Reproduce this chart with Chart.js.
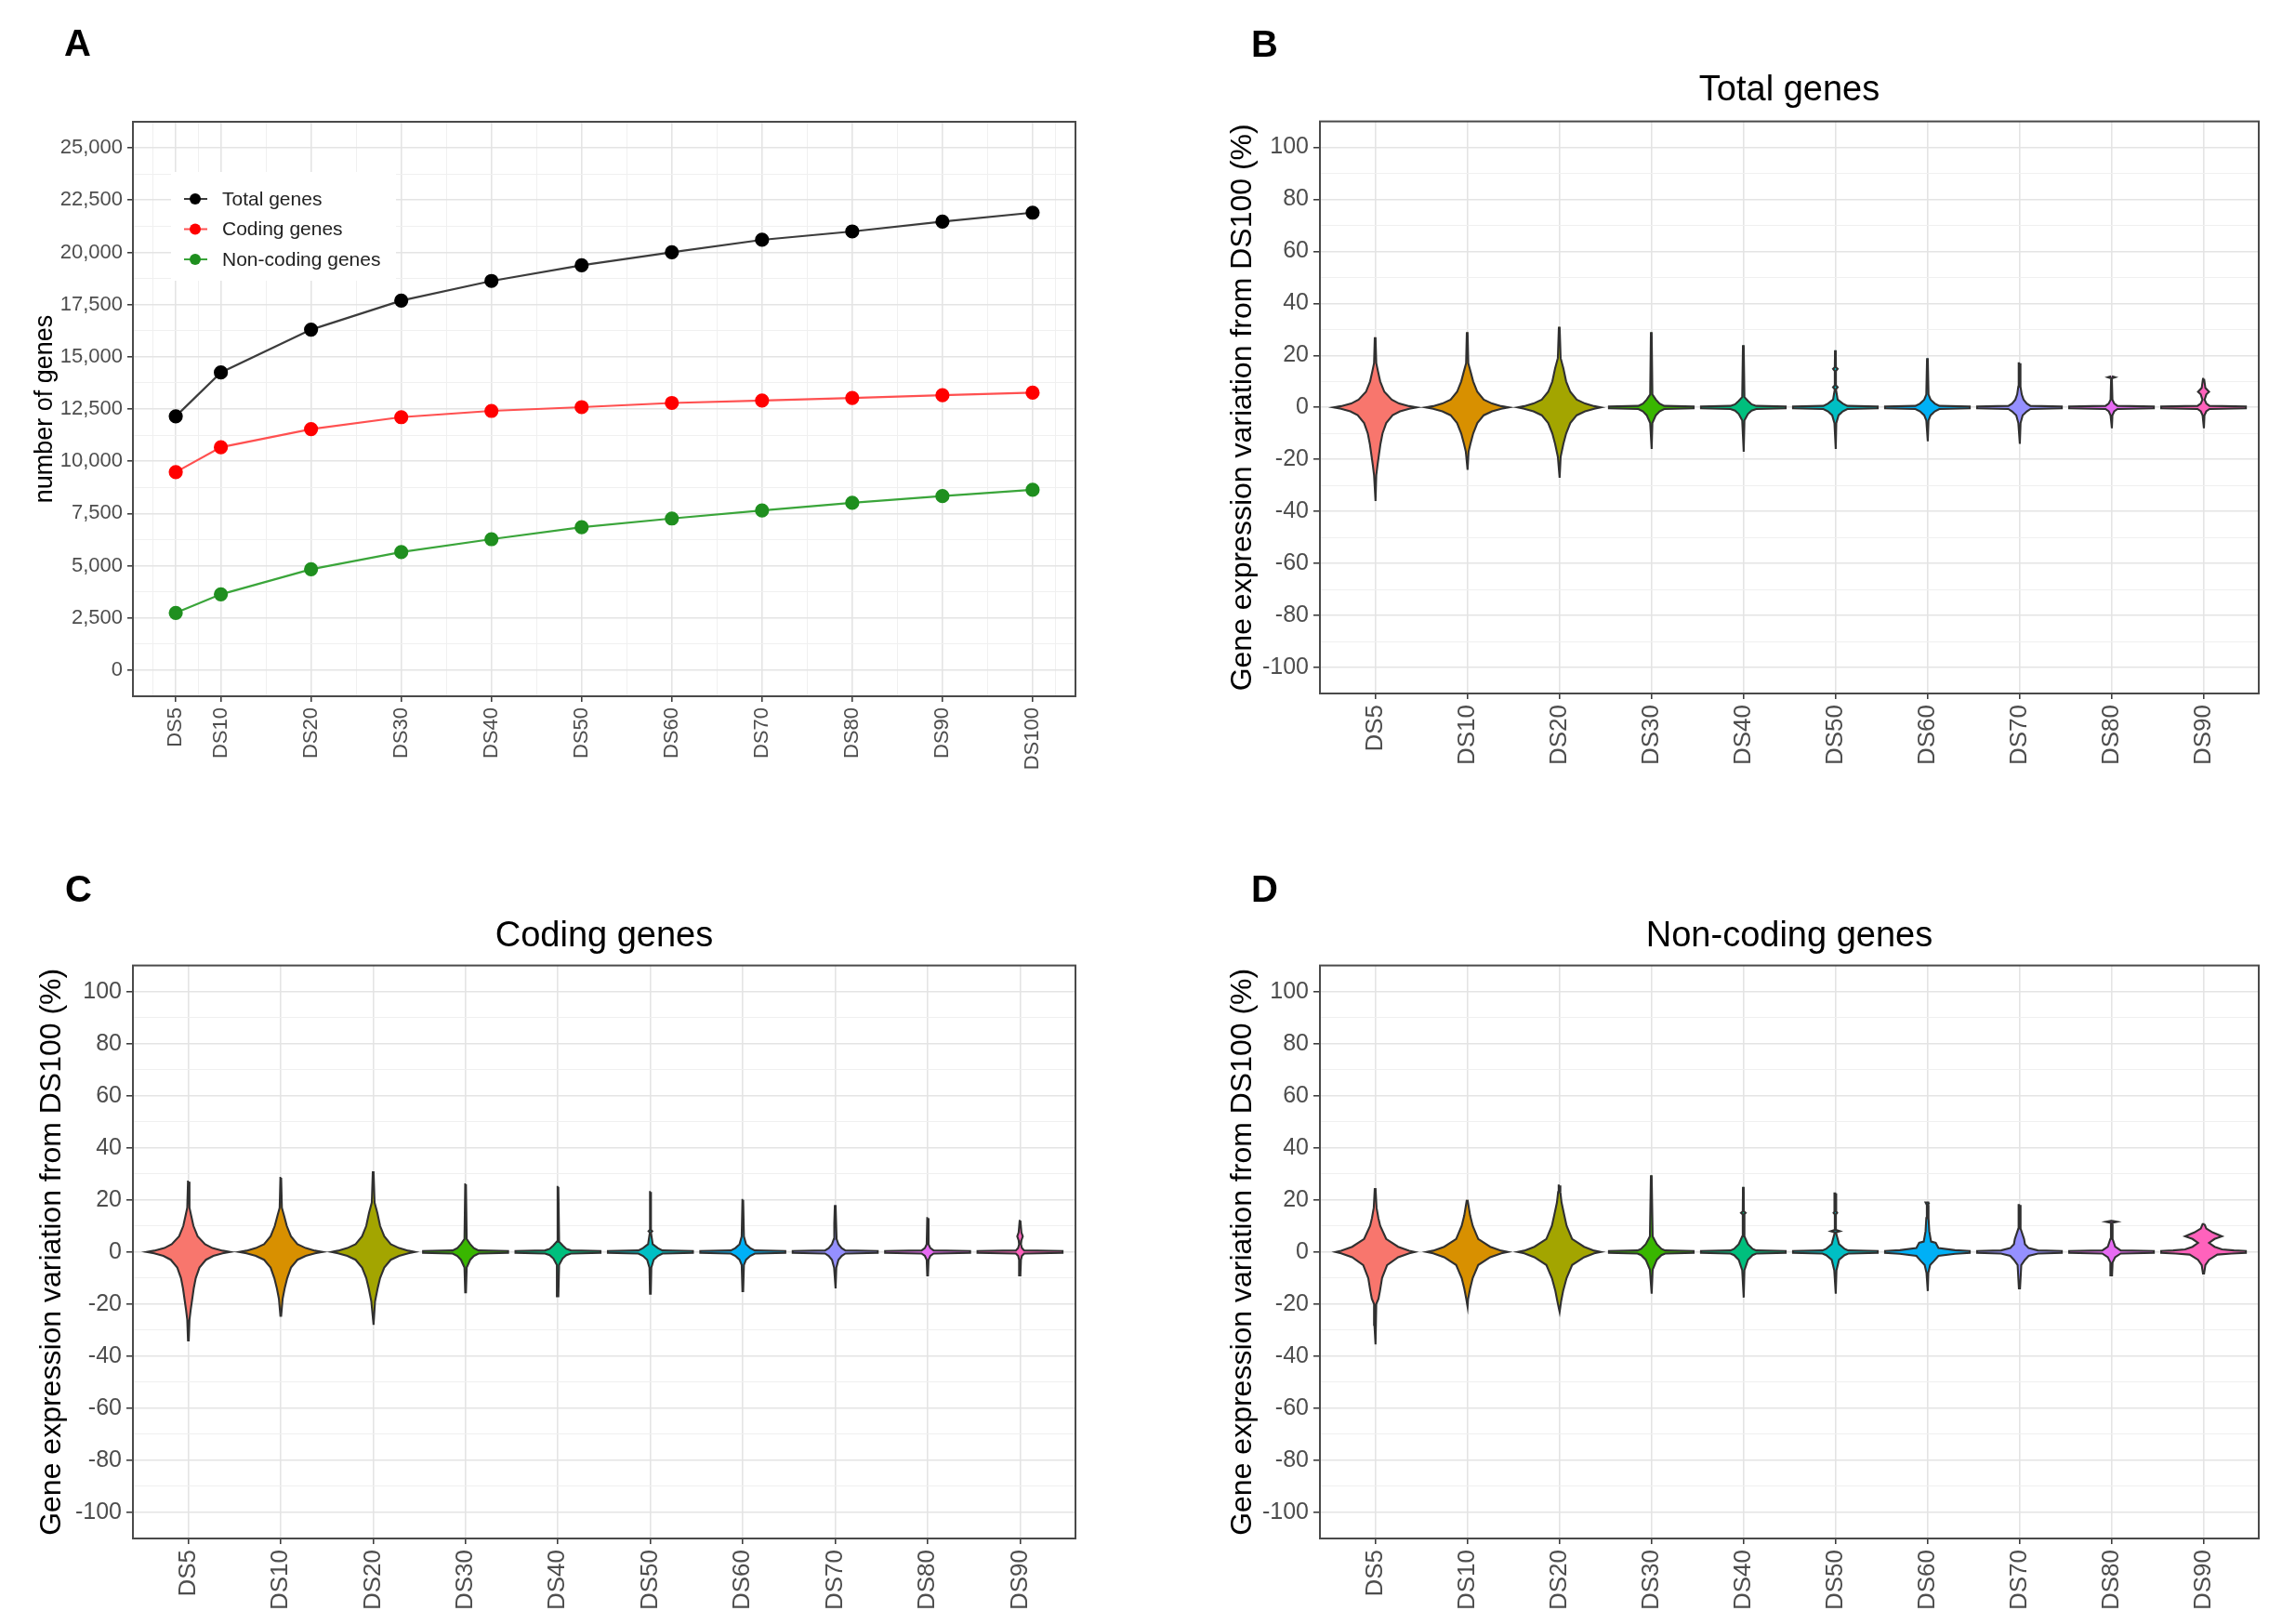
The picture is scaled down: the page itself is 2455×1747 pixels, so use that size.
<!DOCTYPE html>
<html>
<head>
<meta charset="utf-8">
<script src="https://cdn.jsdelivr.net/npm/chart.js@4.4.1/dist/chart.umd.min.js"></script>
<style>
  body { margin: 0; background: #fff; width: 2455px; height: 1747px; position: relative; overflow: hidden;
         font-family: 'Liberation Sans', Arial, sans-serif; }
  canvas { position: absolute; }
  .tag { position: absolute; font-weight: bold; font-size: 40px; line-height: 40px; color: #000; }
</style>
</head>
<body>
<canvas id="chartA" width="1227" height="873" style="left:0;top:0"></canvas>
<canvas id="chartB" width="1228" height="873" style="left:1227px;top:0"></canvas>
<canvas id="chartC" width="1227" height="874" style="left:0;top:873px"></canvas>
<canvas id="chartD" width="1228" height="874" style="left:1227px;top:873px"></canvas>
<div class="tag" style="left:69px;top:26px">A</div>
<div class="tag" style="left:1346px;top:27px">B</div>
<div class="tag" style="left:70px;top:936px">C</div>
<div class="tag" style="left:1346px;top:936px">D</div>
<script>
// panel A: genes detected per downsampling level
const depthLabels = ['DS5', 'DS10', 'DS20', 'DS30', 'DS40', 'DS50', 'DS60', 'DS70', 'DS80', 'DS90', 'DS100'];
const depthValues = [5, 10, 20, 30, 40, 50, 60, 70, 80, 90, 100];
const totalGenes = [12150, 14250, 16300, 17690, 18630, 19380, 20000, 20600, 21000, 21470, 21900];
const codingGenes = [9480, 10670, 11540, 12110, 12410, 12590, 12790, 12910, 13030, 13160, 13280];
const nonCodingGenes = [2740, 3630, 4830, 5650, 6270, 6840, 7260, 7640, 8010, 8330, 8630];
const countTicks = [0, 2500, 5000, 7500, 10000, 12500, 15000, 17500, 20000, 22500, 25000];

// panels B-D: violin profiles, [variation %, half width in category units], top to bottom
const violinGroups = ['DS5', 'DS10', 'DS20', 'DS30', 'DS40', 'DS50', 'DS60', 'DS70', 'DS80', 'DS90'];
const percentTicks = [-100, -80, -60, -40, -20, 0, 20, 40, 60, 80, 100];

const totalProfiles = [
  [[27,.004],[17,.012],[14,.03],[10,.055],[6,.1],[3,.18],[1.5,.26],[.5,.37],[0,.45],[-.5,.37],[-1.5,.27],[-3,.19],[-6,.12],[-10,.08],[-14,.058],[-18,.042],[-22,.026],[-26,.012],[-36,.004]],
  [[29,.004],[17,.012],[14,.035],[10,.065],[6,.11],[3,.18],[1.5,.27],[.5,.37],[0,.45],[-.5,.37],[-1.5,.27],[-3,.18],[-6,.11],[-10,.065],[-14,.035],[-17,.015],[-24,.004]],
  [[31,.004],[19,.015],[15,.045],[10,.075],[6,.12],[3,.19],[1.5,.28],[.5,.38],[0,.45],[-.5,.38],[-1.5,.28],[-3,.19],[-6,.12],[-10,.075],[-14,.045],[-19,.015],[-27,.004]],
  [[29,.004],[5,.012],[3,.05],[1.5,.09],[.6,.14],[.35,.46],[-.35,.46],[-.6,.14],[-1.5,.09],[-3,.05],[-6,.012],[-16,.004]],
  [[24,.004],[4,.012],[2.5,.05],[1.2,.09],[.6,.14],[.35,.46],[-.35,.46],[-.6,.14],[-1.2,.09],[-2.5,.05],[-5,.012],[-17,.004]],
  [[22,.004],[15.5,.006],[14.8,.025],[14,.006],[8.5,.006],[7.8,.025],[7,.006],[3,.025],[1.5,.08],[.6,.13],[.35,.46],[-.35,.46],[-.6,.13],[-1.5,.08],[-3,.035],[-6,.01],[-16,.004]],
  [[19,.004],[5,.012],[3,.035],[1.5,.08],[.6,.13],[.35,.46],[-.35,.46],[-.6,.13],[-1.5,.08],[-3,.035],[-5,.012],[-13,.004]],
  [[17,.006],[12,.01],[8,.012],[5,.025],[3,.045],[1.5,.08],[.6,.12],[.35,.46],[-.35,.46],[-.6,.12],[-1.5,.08],[-3,.035],[-6,.012],[-14,.004]],
  [[12,.004],[11.6,.04],[11.2,.004],[3,.01],[1.5,.03],[.6,.065],[.35,.46],[-.35,.46],[-.6,.065],[-1.5,.03],[-3,.01],[-8,.004]],
  [[11,.006],[7.5,.02],[6,.06],[5,.03],[3,.012],[1.5,.03],[.6,.065],[.35,.46],[-.35,.46],[-.6,.065],[-1.5,.03],[-3,.01],[-8,.004]]
];

const codingProfiles = [
  [[27,.004],[17,.012],[14,.03],[10,.055],[6,.1],[3,.18],[1.5,.26],[.5,.37],[0,.45],[-.5,.37],[-1.5,.27],[-3,.19],[-6,.12],[-10,.08],[-14,.058],[-18,.042],[-22,.026],[-26,.012],[-34,.004]],
  [[28.5,.004],[17,.012],[14,.035],[10,.065],[6,.11],[3,.18],[1.5,.27],[.5,.37],[0,.45],[-.5,.37],[-1.5,.27],[-3,.18],[-6,.11],[-10,.07],[-14,.042],[-18,.02],[-24.5,.004]],
  [[31,.004],[19,.015],[15,.045],[10,.075],[6,.12],[3,.19],[1.5,.28],[.5,.38],[0,.45],[-.5,.38],[-1.5,.28],[-3,.19],[-6,.12],[-10,.075],[-14,.048],[-19,.02],[-28,.004]],
  [[26,.004],[5,.012],[3,.05],[1.5,.09],[.6,.14],[.35,.46],[-.35,.46],[-.6,.14],[-1.5,.09],[-3,.05],[-6,.012],[-15.5,.004]],
  [[25,.004],[4,.012],[2.5,.05],[1.2,.09],[.6,.14],[.35,.46],[-.35,.46],[-.6,.14],[-1.2,.09],[-2.5,.05],[-5,.012],[-17,.004]],
  [[23,.004],[8.5,.006],[8,.02],[7.5,.006],[3,.025],[1.5,.08],[.6,.13],[.35,.46],[-.35,.46],[-.6,.13],[-1.5,.08],[-3,.035],[-6,.01],[-16,.004]],
  [[20,.004],[6,.012],[3,.035],[1.5,.08],[.6,.13],[.35,.46],[-.35,.46],[-.6,.13],[-1.5,.08],[-3,.035],[-5,.012],[-15,.004]],
  [[18,.004],[11,.01],[5,.015],[3,.035],[1.5,.07],[.6,.11],[.35,.46],[-.35,.46],[-.6,.11],[-1.5,.07],[-3,.035],[-6,.012],[-14,.004]],
  [[13,.004],[3,.01],[1.5,.03],[.6,.065],[.35,.46],[-.35,.46],[-.6,.065],[-1.5,.03],[-3,.01],[-9,.004]],
  [[12,.004],[7.5,.015],[6,.03],[4.5,.015],[3,.01],[1.5,.02],[.6,.045],[.35,.46],[-.35,.46],[-.6,.045],[-1.5,.02],[-3,.01],[-9,.004]]
];

const nonCodingProfiles = [
  [[24.5,.004],[17,.015],[13,.035],[10,.055],[5,.12],[2,.25],[.5,.37],[0,.43],[-.5,.37],[-2,.25],[-5,.13],[-10,.075],[-15,.052],[-18,.036],[-20,.012],[-28,.008],[-35.5,.004]],
  [[20,.004],[14,.032],[10,.06],[5,.12],[2,.25],[.5,.37],[0,.44],[-.5,.37],[-2,.25],[-5,.12],[-10,.06],[-14,.032],[-18,.01],[-21,.004]],
  [[25.5,.006],[23,.012],[19,.025],[14,.055],[10,.08],[5,.14],[2,.27],[.5,.38],[0,.45],[-.5,.38],[-2,.27],[-5,.14],[-10,.08],[-15,.042],[-19,.02],[-23,.004]],
  [[29.5,.004],[6,.015],[3,.06],[1.2,.11],[.6,.15],[.35,.46],[-.35,.46],[-.6,.15],[-1.2,.11],[-3,.06],[-6.8,.015],[-16,.004]],
  [[25,.004],[15.6,.006],[15,.025],[14.4,.006],[6,.012],[3,.05],[1.2,.1],[.6,.14],[.35,.46],[-.35,.46],[-.6,.14],[-1.2,.1],[-3,.05],[-7,.012],[-17.5,.004]],
  [[22.5,.008],[20,.012],[15.6,.006],[15,.02],[14.4,.006],[8.5,.006],[8,.05],[7.5,.006],[3,.04],[1.2,.1],[.6,.14],[.35,.46],[-.35,.46],[-.6,.14],[-1.2,.1],[-3,.04],[-7,.012],[-16,.004]],
  [[19,.02],[18,.006],[13,.012],[8,.02],[4,.04],[3.5,.09],[1.5,.12],[.7,.3],[.35,.46],[-.35,.46],[-.7,.3],[-1.5,.12],[-3.5,.07],[-5,.03],[-8,.01],[-15,.004]],
  [[18,.006],[13,.012],[9,.012],[5,.05],[3,.06],[1.5,.1],[.6,.2],[.35,.46],[-.35,.46],[-.6,.2],[-1.5,.1],[-3,.06],[-5,.02],[-14,.006]],
  [[12,.006],[11.6,.06],[11.2,.006],[5,.012],[2,.04],[.6,.1],[.35,.46],[-.35,.46],[-.6,.1],[-2,.04],[-4,.012],[-9,.006]],
  [[10.7,.01],[9,.03],[7.5,.1],[6,.2],[5,.12],[3.5,.06],[2,.12],[1,.2],[.6,.33],[.35,.46],[-.35,.46],[-.6,.3],[-1,.15],[-3,.06],[-5,.02],[-8.3,.006]]
];

const violinColors = ['#F8766D', '#D89000', '#A3A500', '#39B600', '#00BF7D', '#00BFC4', '#00B0F6', '#9590FF', '#E76BF3', '#FF62BC'];

Chart.defaults.font.family = "'Liberation Sans', Arial, sans-serif";
Chart.defaults.animation = false;

// grid: major breaks plus the midpoints between them, like ggplot minor breaks
function withMinors(majors, extra) {
  const minors = [];
  for (let i = 0; i < majors.length - 1; i++) minors.push((majors[i] + majors[i + 1]) / 2);
  return majors.concat(minors, extra || []).sort((a, b) => a - b);
}

function axis(o) {
  const isMajor = v => o.majors.includes(v);
  const major = c => c.tick && isMajor(c.tick.value);
  return {
    type: 'linear', position: o.position, min: o.min, max: o.max, bounds: 'data',
    afterBuildTicks: s => { s.ticks = o.values.map(v => ({ value: v })); },
    afterFit: s => { if (o.position === 'left') s.width = o.size; else s.height = o.size; },
    border: { display: false },
    grid: {
      color: c => major(c) ? '#e4e4e4' : '#f0f0f0',
      lineWidth: c => major(c) ? 1.6 : 1,
      tickColor: c => major(c) ? '#333' : 'rgba(0,0,0,0)',
      tickLength: o.tickLen, tickWidth: 1.5
    },
    ticks: {
      autoSkip: false, color: '#4d4d4d', font: { size: o.fontSize }, padding: o.pad,
      maxRotation: o.rot, minRotation: o.rot,
      callback: v => isMajor(v) ? o.fmt(v) : ''
    },
    title: o.title ? { display: true, text: o.title, color: '#000', font: { size: o.titleSize }, padding: { top: o.titlePad, bottom: 0 } } : { display: false }
  };
}

const panelBorder = {
  id: 'panelBorder',
  afterDatasetsDraw(chart) {
    const { ctx, chartArea: a } = chart;
    ctx.save();
    ctx.strokeStyle = '#4a4a4a';
    ctx.lineWidth = 2;
    ctx.strokeRect(a.left, a.top, a.right - a.left, a.bottom - a.top);
    ctx.restore();
  }
};

// ggplot-like legend sitting inside the panel
const insideLegend = {
  id: 'insideLegend',
  afterDatasetsDraw(chart) {
    const { ctx, chartArea: a } = chart;
    ctx.save();
    ctx.fillStyle = '#fff';
    ctx.fillRect(a.left + 41, a.top + 54, 242, 117);
    ctx.font = "21px 'Liberation Sans', Arial, sans-serif";
    ctx.textBaseline = 'middle';
    chart.data.datasets.forEach((ds, i) => {
      const y = a.top + 83 + i * 32.5;
      ctx.strokeStyle = ds.borderColor;
      ctx.lineWidth = 2;
      ctx.beginPath();
      ctx.moveTo(a.left + 55, y);
      ctx.lineTo(a.left + 80, y);
      ctx.stroke();
      ctx.fillStyle = ds.pointBackgroundColor;
      ctx.beginPath();
      ctx.arc(a.left + 67, y, 6, 0, Math.PI * 2);
      ctx.fill();
      ctx.fillStyle = '#222';
      ctx.fillText(ds.label, a.left + 96, y + 1);
    });
    ctx.restore();
  }
};

// chart A
const seriesStyles = [
  { line: '#3c3c3c', dot: '#000000' },
  { line: '#ff5050', dot: '#ff0000' },
  { line: '#3aa53a', dot: '#1f8f1f' }
];
const seriesA = [
  { label: 'Total genes', values: totalGenes },
  { label: 'Coding genes', values: codingGenes },
  { label: 'Non-coding genes', values: nonCodingGenes }
];

new Chart(document.getElementById('chartA'), {
  type: 'line',
  data: {
    datasets: seriesA.map((s, k) => ({
      label: s.label,
      data: depthValues.map((x, i) => ({ x, y: s.values[i] })),
      borderColor: seriesStyles[k].line,
      pointBackgroundColor: seriesStyles[k].dot,
      pointBorderColor: seriesStyles[k].dot,
      pointRadius: 6.5, borderWidth: 2.2, tension: 0, fill: false
    }))
  },
  options: {
    responsive: false, events: [],
    layout: { padding: { top: 131, right: 70, left: 0, bottom: 0 } },
    plugins: { legend: { display: false }, tooltip: { enabled: false } },
    scales: {
      x: axis({ position: 'bottom', min: 0.25, max: 104.75, majors: depthValues,
                values: withMinors(depthValues, [2.5, 102.5]), size: 873 - 749,
                tickLen: 6, pad: 6, rot: 90, fontSize: 22,
                fmt: v => depthLabels[depthValues.indexOf(v)] }),
      y: axis({ position: 'left', min: -1250, max: 26250, majors: countTicks,
                values: withMinors(countTicks), size: 143,
                tickLen: 6, pad: 5, rot: 0, fontSize: 22,
                fmt: v => v.toLocaleString('en-US'),
                title: 'number of genes', titleSize: 27, titlePad: 32 })
    }
  },
  plugins: [panelBorder, insideLegend]
});

// violin panels
function violinDatasets(profiles) {
  return profiles.map((prof, i) => {
    const cx = i + 1;
    const right = prof.map(([y, w]) => ({ x: cx + w, y }));
    const left = prof.slice().reverse().map(([y, w]) => ({ x: cx - w, y }));
    return {
      label: violinGroups[i],
      data: right.concat(left, [right[0]]),
      backgroundColor: violinColors[i],
      borderColor: '#303030',
      borderWidth: 2.1,
      fill: 'shape', pointRadius: 0, tension: 0
    };
  });
}

function violinChart(id, title, profiles, layout) {
  const groupPos = violinGroups.map((g, i) => i + 1);
  new Chart(document.getElementById(id), {
    type: 'line',
    data: { datasets: violinDatasets(profiles) },
    options: {
      responsive: false, events: [],
      layout: { padding: { top: 0, right: layout.right, left: 0, bottom: 0 } },
      plugins: {
        legend: { display: false }, tooltip: { enabled: false },
        title: { display: true, fullSize: false, text: title, color: '#000', font: { size: 38, weight: 'normal' },
                 padding: { top: layout.titleTop, bottom: layout.titleBottom } }
      },
      scales: {
        x: axis({ position: 'bottom', min: 0.4, max: 10.6, majors: groupPos, values: groupPos,
                  size: layout.xHeight, tickLen: 6, pad: 6, rot: 90, fontSize: 26,
                  fmt: v => violinGroups[v - 1] }),
        y: axis({ position: 'left', min: -110, max: 110, majors: percentTicks,
                  values: withMinors(percentTicks), size: layout.yWidth,
                  tickLen: 7, pad: 5, rot: 0, fontSize: 25, fmt: v => String(v),
                  title: 'Gene expression variation from DS100 (%)', titleSize: 32, titlePad: layout.yTitlePad })
      }
    },
    plugins: [panelBorder]
  });
}

violinChart('chartB', 'Total genes', totalProfiles,
  { right: 25, titleTop: 75, titleBottom: 10, xHeight: 873 - 746, yWidth: 193, yTitlePad: 91 });
violinChart('chartC', 'Coding genes', codingProfiles,
  { right: 70, titleTop: 112, titleBottom: 8, xHeight: 874 - 782, yWidth: 143, yTitlePad: 37 });
violinChart('chartD', 'Non-coding genes', nonCodingProfiles,
  { right: 25, titleTop: 112, titleBottom: 8, xHeight: 874 - 782, yWidth: 193, yTitlePad: 91 });
</script>
</body>
</html>
